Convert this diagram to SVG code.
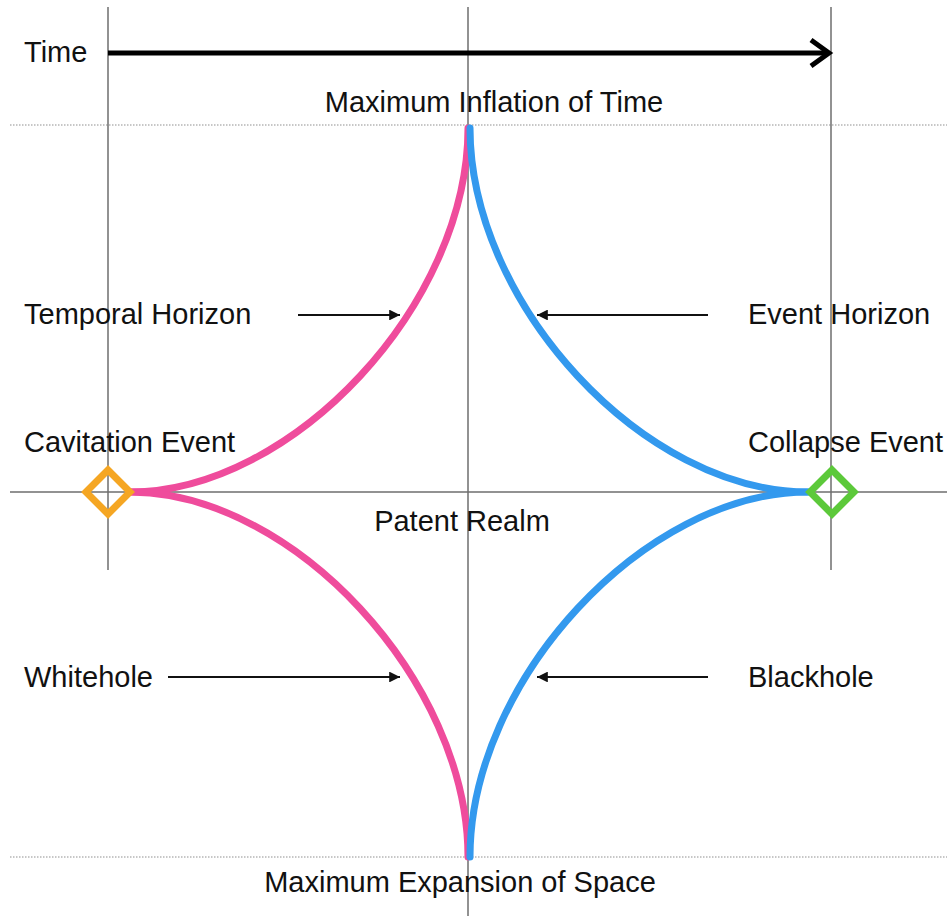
<svg xmlns="http://www.w3.org/2000/svg" width="947" height="916" viewBox="0 0 947 916">
<defs>
<style>
.lbl{font-family:"Liberation Sans",Arial,Helvetica,sans-serif;font-size:29px;fill:#111}
.axis{stroke:#6e6e6e;stroke-width:1.5;fill:none}
.dot{stroke:#b5b5b5;stroke-width:1.5;stroke-dasharray:1.5 1.5;fill:none}
.pink{stroke:#EF4C9C;stroke-width:7;fill:none;stroke-linecap:round}
.blue{stroke:#3399EE;stroke-width:7;fill:none;stroke-linecap:round}
.ptr{stroke:#111;stroke-width:1.8;fill:none;marker-end:url(#tri)}
</style>
<marker id="tri" viewBox="0 0 10 10" refX="10" refY="5" markerWidth="7" markerHeight="6" markerUnits="strokeWidth" orient="auto">
<path d="M0,0 L10,5 L0,10 Z" fill="#111"/>
</marker>
</defs>
<rect width="947" height="916" fill="#fff"/>
<g id="grid">
<line class="dot" x1="10" y1="125" x2="947" y2="125"/>
<line class="dot" x1="10" y1="857" x2="947" y2="857"/>
<line class="axis" x1="108" y1="7" x2="108" y2="570"/>
<line class="axis" x1="831" y1="7" x2="831" y2="570"/>
<line class="axis" x1="468" y1="7" x2="468" y2="916"/>
<line class="axis" x1="10" y1="492" x2="947" y2="492"/>
</g>
<g id="time-arrow">
<line x1="108" y1="53" x2="828" y2="53" stroke="#000" stroke-width="5"/>
<polyline points="811,40 829,53 811,66" fill="none" stroke="#000" stroke-width="5" stroke-linejoin="miter"/>
</g>
<g id="curves">
<path class="pink" d="M468,128 C468,304 293,492 130,492"/>
<path class="pink" d="M130,492 C293,492 468,681 468,857"/>
<path class="blue" d="M470,128 C470,304 644,492 808,492"/>
<path class="blue" d="M808,492 C644,492 470,681 470,857"/>
</g>
<g id="cavitation-event">
<path d="M108,470 L130,492 L108,514 L86,492 Z" fill="none" stroke="#F5A623" stroke-width="7"/>
</g>
<g id="collapse-event">
<path d="M832,470 L854,492 L832,514 L810,492 Z" fill="none" stroke="#5CC93A" stroke-width="7"/>
</g>
<g id="connectors">
<line class="ptr" x1="298" y1="315" x2="400" y2="315"/>
<line class="ptr" x1="708" y1="315" x2="537" y2="315"/>
<line class="ptr" x1="168" y1="677" x2="400" y2="677"/>
<line class="ptr" x1="708" y1="677" x2="537" y2="677"/>
</g>
<g id="labels">
<text class="lbl" x="24" y="62">Time</text>
<text class="lbl" x="494" y="112" text-anchor="middle">Maximum Inflation of Time</text>
<text class="lbl" x="24" y="324">Temporal Horizon</text>
<text class="lbl" x="748" y="324">Event Horizon</text>
<text class="lbl" x="24" y="452">Cavitation Event</text>
<text class="lbl" x="748" y="452">Collapse Event</text>
<text class="lbl" x="462" y="531" text-anchor="middle">Patent Realm</text>
<text class="lbl" x="24" y="687">Whitehole</text>
<text class="lbl" x="748" y="687">Blackhole</text>
<text class="lbl" x="460" y="892" text-anchor="middle">Maximum Expansion of Space</text>
</g>
</svg>
